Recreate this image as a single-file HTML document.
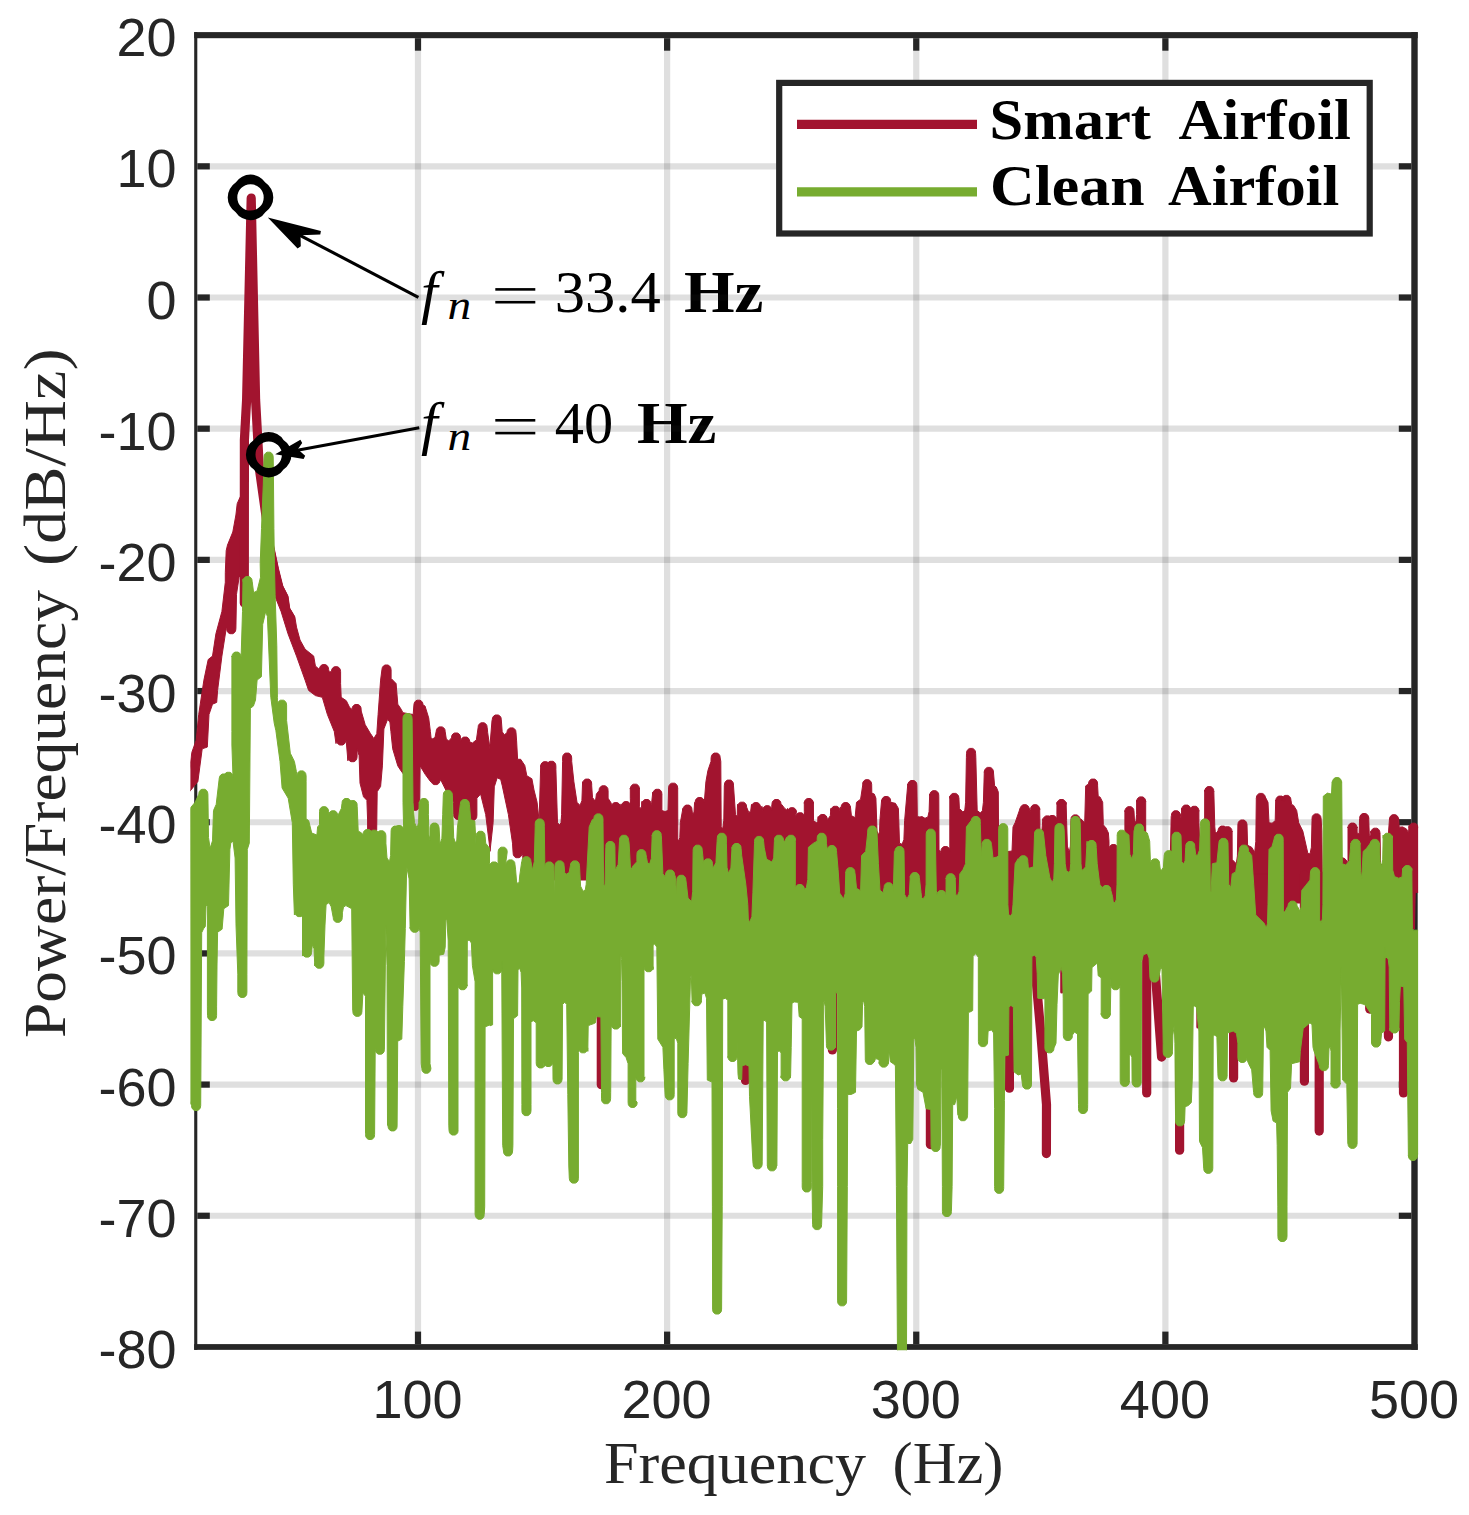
<!DOCTYPE html>
<html><head><meta charset="utf-8"><title>PSD</title>
<style>html,body{margin:0;padding:0;background:#fff;}body{width:1469px;height:1515px;overflow:hidden;}svg{display:block;} .sans{font-family:"Liberation Sans",sans-serif;fill:#262626;} .serif{font-family:"Liberation Serif",serif;}</style>
</head><body>
<svg width="1469" height="1515" viewBox="0 0 1469 1515">
<rect x="0" y="0" width="1469" height="1515" fill="#fff"/>
<g class="serif" fill="#000">
<text x="421" y="311.7" font-size="60" font-style="italic">f</text>
<text x="447.6" y="319.3" font-size="40" font-style="italic" textLength="23.7" lengthAdjust="spacingAndGlyphs">n</text>
<rect x="495.3" y="288.1" width="40" height="2.6"/>
<rect x="495.3" y="300.9" width="40" height="2.6"/>
<text x="554.8" y="311.7" font-size="58.5" textLength="106.0" lengthAdjust="spacingAndGlyphs">33.4</text>
<text x="684.0" y="311.7" font-size="59.5" font-weight="bold" textLength="79.5" lengthAdjust="spacingAndGlyphs">Hz</text>
</g>
<g class="serif" fill="#000">
<text x="421" y="442.6" font-size="60" font-style="italic">f</text>
<text x="447.6" y="450.2" font-size="40" font-style="italic" textLength="23.7" lengthAdjust="spacingAndGlyphs">n</text>
<rect x="495.3" y="419.0" width="40" height="2.6"/>
<rect x="495.3" y="431.8" width="40" height="2.6"/>
<text x="554.8" y="442.6" font-size="58.5" textLength="58.4" lengthAdjust="spacingAndGlyphs">40</text>
<text x="636.9" y="442.6" font-size="59.5" font-weight="bold" textLength="79.5" lengthAdjust="spacingAndGlyphs">Hz</text>
</g>
<g stroke="rgba(38,38,38,0.15)" stroke-width="6.2" fill="none">
<line x1="418.00" y1="35.15" x2="418.00" y2="1346.95"/>
<line x1="667.12" y1="35.15" x2="667.12" y2="1346.95"/>
<line x1="916.25" y1="35.15" x2="916.25" y2="1346.95"/>
<line x1="1165.38" y1="35.15" x2="1165.38" y2="1346.95"/>
<line x1="197.30" y1="166.33" x2="1414.50" y2="166.33"/>
<line x1="197.30" y1="297.51" x2="1414.50" y2="297.51"/>
<line x1="197.30" y1="428.69" x2="1414.50" y2="428.69"/>
<line x1="197.30" y1="559.87" x2="1414.50" y2="559.87"/>
<line x1="197.30" y1="691.05" x2="1414.50" y2="691.05"/>
<line x1="197.30" y1="822.23" x2="1414.50" y2="822.23"/>
<line x1="197.30" y1="953.41" x2="1414.50" y2="953.41"/>
<line x1="197.30" y1="1084.59" x2="1414.50" y2="1084.59"/>
<line x1="197.30" y1="1215.77" x2="1414.50" y2="1215.77"/>
</g>
<g fill="#262626">
<rect x="194.20" y="32.10" width="1223.50" height="6.10"/>
<rect x="194.20" y="1344.10" width="1223.50" height="5.75"/>
<rect x="194.20" y="32.10" width="3.10" height="1317.75"/>
<rect x="1411.30" y="32.10" width="6.40" height="1317.75"/>
<rect x="414.90" y="38.20" width="6.2" height="12.50"/>
<rect x="414.90" y="1331.60" width="6.2" height="12.50"/>
<rect x="664.02" y="38.20" width="6.2" height="12.50"/>
<rect x="664.02" y="1331.60" width="6.2" height="12.50"/>
<rect x="913.15" y="38.20" width="6.2" height="12.50"/>
<rect x="913.15" y="1331.60" width="6.2" height="12.50"/>
<rect x="1162.28" y="38.20" width="6.2" height="12.50"/>
<rect x="1162.28" y="1331.60" width="6.2" height="12.50"/>
<rect x="197.30" y="163.23" width="12.50" height="6.2"/>
<rect x="1398.80" y="163.23" width="12.50" height="6.2"/>
<rect x="197.30" y="294.41" width="12.50" height="6.2"/>
<rect x="1398.80" y="294.41" width="12.50" height="6.2"/>
<rect x="197.30" y="425.59" width="12.50" height="6.2"/>
<rect x="1398.80" y="425.59" width="12.50" height="6.2"/>
<rect x="197.30" y="556.77" width="12.50" height="6.2"/>
<rect x="1398.80" y="556.77" width="12.50" height="6.2"/>
<rect x="197.30" y="687.95" width="12.50" height="6.2"/>
<rect x="1398.80" y="687.95" width="12.50" height="6.2"/>
<rect x="197.30" y="819.13" width="12.50" height="6.2"/>
<rect x="1398.80" y="819.13" width="12.50" height="6.2"/>
<rect x="197.30" y="950.31" width="12.50" height="6.2"/>
<rect x="1398.80" y="950.31" width="12.50" height="6.2"/>
<rect x="197.30" y="1081.49" width="12.50" height="6.2"/>
<rect x="1398.80" y="1081.49" width="12.50" height="6.2"/>
<rect x="197.30" y="1212.67" width="12.50" height="6.2"/>
<rect x="1398.80" y="1212.67" width="12.50" height="6.2"/>
</g>
<defs><clipPath id="clip"><rect x="190.4" y="31.6" width="1227.7" height="1318.6"/></clipPath></defs>
<g clip-path="url(#clip)">
<path d="M189.3,771.1 L191.9,752.2 L196.2,740.2 L198.7,714.5 L203.9,680.1 L208.2,659.5 L212.5,656.1 L215.9,633.8 L221.9,611.5 L225.3,582.3 L225.3,572.7 L226.2,550.6 L227.5,545.0 L232.8,532.0 L235.9,515.0 L237.2,503.7 L239.9,497.5 L244.0,490.0 L244.0,570.0 L239.1,577.2 L236.5,594.3 L235.9,628.6 L235.9,628.8 L235.5,631.1 L234.4,632.7 L232.8,633.7 L229.8,633.7 L228.2,632.7 L227.1,631.1 L226.8,628.8 L226.2,628.6 L221.9,656.1 L217.6,690.4 L216.7,702.4 L212.5,704.2 L209.0,714.5 L207.3,747.1 L202.2,748.8 L197.9,781.4 L189.3,792.0Z" fill="#A2142F" stroke="#A2142F" stroke-width="1" stroke-linejoin="round"/>
<path d="M244.3,603.0 L244.4,440.0 L246.6,400.0 L251.2,198.2 L255.6,400.0 L259.4,469.2 L266.5,519.6 L269.1,546.0 L274.2,570.0 L278.5,587.2 L283.7,597.4 L285.4,609.4 L290.5,618.0" fill="none" stroke="#A2142F" stroke-width="9.2" stroke-linejoin="round" stroke-linecap="round"/>
<path d="M273.4,544.7 L278.5,568.8 L282.8,586.0 L288.0,596.2 L289.7,608.2 L294.8,616.8 L296.5,627.1 L300.0,640.0 L305.1,649.2 L313.7,656.1 L315.4,666.0 L319.4,669.5 L319.8,667.2 L320.9,665.6 L322.5,664.6 L325.5,664.6 L327.1,665.6 L328.2,667.2 L328.6,669.5 L329.2,672.0 L331.4,671.6 L331.8,669.3 L332.9,667.7 L334.5,666.7 L337.5,666.7 L339.1,667.7 L340.2,669.3 L340.6,671.6 L340.6,683.6 L341.2,697.3 L346.3,700.7 L349.7,707.6 L352.1,709.4 L352.4,707.1 L353.5,705.5 L355.1,704.5 L358.1,704.5 L359.7,705.5 L360.8,707.1 L361.2,709.4 L361.2,711.0 L365.2,724.7 L370.3,733.3 L373.8,738.5 L376.8,733.7 L378.1,714.5 L380.6,680.1 L381.9,669.9 L382.3,667.6 L383.4,666.0 L385.0,665.0 L388.0,665.0 L389.6,666.0 L390.7,667.6 L391.1,669.9 L391.1,678.4 L396.1,683.6 L397.8,704.2 L401.2,709.3 L402.9,712.7 L413.2,714.5 L413.9,705.1 L414.3,702.8 L415.4,701.2 L417.0,700.2 L420.0,700.2 L421.6,701.2 L422.7,702.8 L423.1,705.1 L425.0,706.0 L428.7,717.9 L430.4,731.6 L431.0,737.4 L432.5,738.9 L435.0,737.5 L436.1,731.8 L436.5,729.5 L437.6,727.9 L439.2,726.9 L442.2,726.9 L443.8,727.9 L444.9,729.5 L445.2,731.8 L446.3,739.1 L448.8,740.9 L451.5,737.9 L451.8,735.6 L452.9,734.0 L454.5,733.0 L457.5,733.0 L459.1,734.0 L460.2,735.6 L460.6,737.9 L460.7,737.9 L460.7,742.0 L461.0,739.7 L462.1,738.1 L463.7,737.1 L466.7,737.1 L468.3,738.1 L469.4,739.7 L469.8,742.0 L472.4,743.0 L476.4,739.9 L478.1,727.7 L478.4,725.4 L479.5,723.8 L481.1,722.8 L484.1,722.8 L485.7,723.8 L486.8,725.4 L487.2,727.7 L487.7,732.7 L490.0,749.1 L490.0,745.0 L492.0,720.5 L492.2,719.9 L492.6,717.6 L493.7,716.0 L495.3,715.0 L498.3,715.0 L499.9,716.0 L501.0,717.6 L501.3,719.9 L502.2,731.8 L504.3,734.8 L506.9,732.8 L507.3,730.5 L508.4,728.9 L510.0,727.9 L513.0,727.9 L514.6,728.9 L515.7,730.5 L516.0,732.8 L516.6,740.9 L517.6,759.3 L520.7,759.3 L524.8,765.5 L526.8,775.7 L531.9,778.8 L534.0,790.0 L537.1,802.3 L539.1,820.7 L540.7,765.5 L540.7,766.6 L541.0,764.3 L542.1,762.7 L543.7,761.7 L546.7,761.7 L548.3,762.7 L549.4,764.3 L549.8,766.6 L546.8,766.2 L547.2,763.9 L548.3,762.3 L549.9,761.3 L552.9,761.3 L554.5,762.3 L555.6,763.9 L555.9,766.2 L555.9,769.6 L557.5,822.8 L559.6,824.8 L561.0,822.8 L561.6,814.6 L562.6,761.4 L562.6,758.0 L562.9,755.7 L564.0,754.1 L565.6,753.1 L568.6,753.1 L570.2,754.1 L571.3,755.7 L571.7,758.0 L571.7,761.4 L573.9,781.8 L577.0,802.3 L580.0,805.4 L581.9,800.7 L582.6,781.8 L582.6,784.0 L583.0,781.7 L584.1,780.1 L585.7,779.1 L588.7,779.1 L590.3,780.1 L591.4,781.7 L591.7,784.0 L591.7,785.9 L592.5,797.4 L594.4,800.3 L595.8,799.0 L596.4,794.1 L599.0,790.7 L599.4,788.4 L600.5,786.8 L602.1,785.8 L605.1,785.8 L606.7,786.8 L607.8,788.4 L608.1,790.7 L608.1,798.2 L611.3,803.3 L611.3,807.5 L611.6,805.2 L612.7,803.6 L614.3,802.6 L617.3,802.6 L618.9,803.6 L620.0,805.2 L620.4,807.5 L621.0,803.9 L621.5,806.5 L621.9,804.2 L623.0,802.6 L624.6,801.6 L627.6,801.6 L629.2,802.6 L630.3,804.2 L630.6,806.5 L630.3,798.2 L630.3,788.0 L630.3,789.1 L630.7,786.8 L631.8,785.2 L633.4,784.2 L636.4,784.2 L638.0,785.2 L639.1,786.8 L639.4,789.1 L639.4,788.0 L639.4,806.4 L640.4,808.4 L641.5,807.0 L642.0,801.3 L642.0,804.4 L642.3,802.1 L643.4,800.5 L645.0,799.5 L648.0,799.5 L649.6,800.5 L650.7,802.1 L651.1,804.4 L651.7,802.3 L652.8,792.1 L652.8,794.2 L653.2,791.9 L654.3,790.3 L655.9,789.3 L658.9,789.3 L660.5,790.3 L661.6,791.9 L661.9,794.2 L661.9,794.1 L661.9,810.5 L665.0,811.5 L668.0,810.5 L668.6,788.0 L668.6,788.1 L668.9,785.8 L670.0,784.2 L671.6,783.2 L674.6,783.2 L676.2,784.2 L677.3,785.8 L677.7,788.1 L677.7,788.0 L677.8,839.1 L678.7,841.2 L679.8,837.5 L680.3,822.8 L682.9,808.4 L682.9,810.0 L683.3,807.7 L684.4,806.1 L686.0,805.1 L689.0,805.1 L690.6,806.1 L691.7,807.7 L692.0,810.0 L692.6,814.6 L694.0,812.1 L694.6,802.3 L695.2,802.4 L695.5,800.1 L696.6,798.5 L698.2,797.5 L701.2,797.5 L702.8,798.5 L703.9,800.1 L704.3,802.4 L704.3,802.3 L705.9,781.8 L707.9,770.6 L711.0,761.4 L711.1,758.0 L711.5,755.7 L712.6,754.1 L714.2,753.1 L717.2,753.1 L718.8,754.1 L719.9,755.7 L720.2,758.0 L720.8,761.4 L721.2,826.9 L722.7,828.9 L723.8,820.3 L724.3,785.9 L724.4,785.0 L724.8,782.7 L725.9,781.1 L727.5,780.1 L730.5,780.1 L732.1,781.1 L733.2,782.7 L733.5,785.0 L733.5,785.9 L735.5,814.6 L737.2,816.6 L737.5,804.4 L737.5,807.1 L737.9,804.8 L739.0,803.2 L740.6,802.2 L743.6,802.2 L745.2,803.2 L746.3,804.8 L746.6,807.1 L748.8,812.5 L750.7,810.9 L751.5,804.4 L751.5,807.5 L751.8,805.2 L752.9,803.6 L754.5,802.6 L757.5,802.6 L759.1,803.6 L760.2,805.2 L760.6,807.5 L762.1,806.4 L762.7,810.6 L763.1,808.3 L764.2,806.7 L765.8,805.7 L768.8,805.7 L770.4,806.7 L771.5,808.3 L771.8,810.6 L771.8,804.8 L771.9,804.4 L772.3,802.1 L773.4,800.5 L775.0,799.5 L778.0,799.5 L779.6,800.5 L780.7,802.1 L781.0,804.4 L781.6,804.4 L784.7,808.4 L787.5,810.5 L787.5,808.4 L787.5,812.6 L787.8,810.3 L788.9,808.7 L790.5,807.7 L793.5,807.7 L795.1,808.7 L796.2,810.3 L796.6,812.6 L795.7,814.6 L795.7,817.7 L796.0,815.4 L797.1,813.8 L798.7,812.8 L801.7,812.8 L803.3,813.8 L804.4,815.4 L804.8,817.7 L804.3,811.5 L804.3,802.3 L804.3,803.4 L804.6,801.1 L805.7,799.5 L807.3,798.5 L810.3,798.5 L811.9,799.5 L813.0,801.1 L813.4,803.4 L813.4,802.3 L813.5,820.7 L816.6,822.8 L817.7,821.5 L818.2,816.6 L818.2,819.4 L818.5,817.1 L819.6,815.5 L821.2,814.5 L824.2,814.5 L825.8,815.5 L826.9,817.1 L827.3,819.4 L828.9,817.7 L830.3,815.8 L830.9,808.4 L830.9,811.2 L831.2,808.9 L832.3,807.3 L833.9,806.3 L836.9,806.3 L838.5,807.3 L839.6,808.9 L840.0,811.2 L840.1,807.4 L841.1,807.5 L841.5,805.2 L842.6,803.6 L844.2,802.6 L847.2,802.6 L848.8,803.6 L849.9,805.2 L850.2,807.5 L850.4,806.4 L851.4,815.6 L855.1,817.7 L856.5,802.3 L860.6,799.2 L862.6,785.9 L862.6,784.6 L862.9,782.3 L864.0,780.7 L865.6,779.7 L868.6,779.7 L870.2,780.7 L871.3,782.3 L871.7,784.6 L871.7,785.9 L871.8,793.1 L874.3,794.1 L875.9,798.2 L877.0,831.0 L878.4,835.0 L879.5,831.8 L880.0,818.7 L881.6,800.3 L881.6,801.4 L882.0,799.1 L883.1,797.5 L884.7,796.5 L887.7,796.5 L889.3,797.5 L890.4,799.1 L890.7,801.4 L890.7,802.3 L895.4,803.3 L898.4,808.4 L899.5,843.2 L902.1,844.3 L903.9,839.6 L904.6,820.7 L907.8,783.9 L907.8,785.4 L908.2,783.1 L909.3,781.5 L910.9,780.5 L913.9,780.5 L915.5,781.5 L916.6,783.1 L916.9,785.4 L916.9,785.9 L917.3,816.6 L919.9,817.0 L922.0,816.6 L925.0,818.3 L927.9,816.9 L929.1,811.5 L929.7,794.1 L929.7,795.6 L930.1,793.3 L931.2,791.7 L932.8,790.7 L935.8,790.7 L937.4,791.7 L938.5,793.3 L938.8,795.6 L938.8,796.2 L939.0,849.4 L941.0,852.4 L941.0,851.5 L941.3,849.2 L942.4,847.6 L944.0,846.6 L947.0,846.6 L948.6,847.6 L949.7,849.2 L950.1,851.5 L949.8,851.4 L949.8,796.2 L949.8,798.3 L950.1,796.0 L951.2,794.4 L952.8,793.4 L955.8,793.4 L957.4,794.4 L958.5,796.0 L958.9,798.3 L958.9,798.2 L959.4,808.4 L962.9,812.1 L964.8,810.2 L965.6,802.3 L966.4,757.3 L966.5,753.3 L966.9,751.0 L968.0,749.4 L969.6,748.4 L972.6,748.4 L974.2,749.4 L975.3,751.0 L975.6,753.3 L975.8,757.3 L977.2,810.5 L980.3,813.0 L982.4,810.8 L983.4,802.3 L984.3,771.6 L984.3,772.3 L984.7,770.0 L985.8,768.4 L987.4,767.4 L990.4,767.4 L992.0,768.4 L993.1,770.0 L993.4,772.3 L993.4,771.6 L994.6,785.9 L996.3,787.0 L998.3,792.1 L998.7,855.5 L999.1,858.0 L1000.8,852.4 L1012.0,851.0 L1013.0,826.9 L1015.1,822.8 L1020.1,808.4 L1020.1,809.6 L1020.5,807.3 L1021.6,805.7 L1023.2,804.7 L1026.2,804.7 L1027.8,805.7 L1028.9,807.3 L1029.2,809.6 L1029.2,808.4 L1030.4,811.5 L1030.6,809.6 L1030.9,807.3 L1032.0,805.7 L1033.6,804.7 L1036.6,804.7 L1038.2,805.7 L1039.3,807.3 L1039.7,809.6 L1039.7,808.4 L1040.0,831.0 L1041.7,833.0 L1042.9,818.7 L1042.9,820.8 L1043.2,818.5 L1044.3,816.9 L1045.9,815.9 L1048.9,815.9 L1050.5,816.9 L1051.6,818.5 L1052.0,820.8 L1047.8,820.4 L1048.1,818.1 L1049.2,816.5 L1050.8,815.5 L1053.8,815.5 L1055.4,816.5 L1056.5,818.1 L1056.9,820.4 L1056.9,814.6 L1057.0,802.3 L1057.0,804.4 L1057.3,802.1 L1058.4,800.5 L1060.0,799.5 L1063.0,799.5 L1064.6,800.5 L1065.7,802.1 L1066.1,804.4 L1066.1,802.3 L1066.6,820.7 L1067.4,846.1 L1069.3,852.4 L1070.4,846.1 L1070.9,820.7 L1070.9,819.8 L1071.2,817.5 L1072.3,815.9 L1073.9,814.9 L1076.9,814.9 L1078.5,815.9 L1079.6,817.5 L1080.0,819.8 L1080.6,818.7 L1084.7,822.8 L1085.7,785.9 L1088.5,784.0 L1088.9,781.7 L1090.0,780.1 L1091.6,779.1 L1094.6,779.1 L1096.2,780.1 L1097.3,781.7 L1097.6,784.0 L1097.6,785.9 L1098.2,796.2 L1100.2,797.2 L1102.7,802.3 L1103.3,824.8 L1106.0,827.9 L1108.4,833.0 L1109.0,841.2 L1109.0,849.5 L1109.3,847.2 L1110.4,845.6 L1112.0,844.6 L1115.0,844.6 L1116.6,845.6 L1117.7,847.2 L1118.1,849.5 L1118.1,847.3 L1118.1,878.0 L1124.9,878.0 L1124.9,810.5 L1124.9,811.6 L1125.3,809.3 L1126.4,807.7 L1128.0,806.7 L1131.0,806.7 L1132.6,807.7 L1133.7,809.3 L1134.0,811.6 L1134.0,811.5 L1134.6,822.8 L1136.0,821.1 L1136.6,814.6 L1136.6,800.3 L1136.6,801.8 L1137.0,799.5 L1138.1,797.9 L1139.7,796.9 L1142.7,796.9 L1144.3,797.9 L1145.4,799.5 L1145.7,801.8 L1145.7,801.3 L1145.7,831.0 L1146.2,868.6 L1147.3,878.0 L1169.8,878.0 L1171.2,816.6 L1171.4,815.7 L1171.7,813.4 L1172.8,811.8 L1174.4,810.8 L1177.4,810.8 L1179.0,811.8 L1180.1,813.4 L1180.5,815.7 L1180.5,814.6 L1181.5,822.8 L1181.6,808.4 L1181.6,810.0 L1182.0,807.7 L1183.1,806.1 L1184.7,805.1 L1187.7,805.1 L1189.3,806.1 L1190.4,807.7 L1190.7,810.0 L1189.8,811.2 L1190.2,808.9 L1191.3,807.3 L1192.9,806.3 L1195.9,806.3 L1197.5,807.3 L1198.6,808.9 L1198.9,811.2 L1198.9,810.5 L1198.9,822.8 L1199.7,839.1 L1201.5,843.2 L1204.6,843.2 L1204.7,790.0 L1204.7,791.5 L1205.1,789.2 L1206.2,787.6 L1207.8,786.6 L1210.8,786.6 L1212.4,787.6 L1213.5,789.2 L1213.8,791.5 L1213.8,791.1 L1214.8,826.9 L1215.3,831.8 L1216.5,833.0 L1217.9,831.0 L1218.0,831.0 L1218.4,828.7 L1219.5,827.1 L1221.1,826.1 L1224.1,826.1 L1225.7,827.1 L1226.8,828.7 L1227.1,831.0 L1223.0,831.7 L1223.3,829.4 L1224.4,827.8 L1226.0,826.8 L1229.0,826.8 L1230.6,827.8 L1231.7,829.4 L1232.1,831.7 L1232.1,831.0 L1232.2,859.6 L1236.3,863.7 L1237.4,855.9 L1237.9,824.8 L1237.9,824.9 L1238.2,822.6 L1239.3,821.0 L1240.9,820.0 L1243.9,820.0 L1245.5,821.0 L1246.6,822.6 L1247.0,824.9 L1247.0,824.8 L1247.6,845.3 L1251.7,847.3 L1254.7,852.4 L1255.8,841.6 L1256.3,798.2 L1256.3,798.3 L1256.7,796.0 L1257.8,794.4 L1259.4,793.4 L1262.4,793.4 L1264.0,794.4 L1265.1,796.0 L1265.4,798.3 L1265.4,797.2 L1268.0,802.3 L1269.0,822.8 L1272.1,823.2 L1275.2,820.7 L1275.7,800.3 L1275.7,801.0 L1276.1,798.7 L1277.2,797.1 L1278.8,796.1 L1281.8,796.1 L1283.4,797.1 L1284.5,798.7 L1284.8,801.0 L1281.9,800.3 L1282.2,798.0 L1283.3,796.4 L1284.9,795.4 L1287.9,795.4 L1289.5,796.4 L1290.6,798.0 L1291.0,800.3 L1291.0,800.3 L1291.6,804.4 L1293.6,805.4 L1296.7,810.5 L1298.7,822.8 L1302.8,831.0 L1307.9,853.5 L1310.0,853.9 L1311.4,847.2 L1312.0,820.7 L1312.0,818.8 L1312.3,816.5 L1313.4,814.9 L1315.0,813.9 L1318.0,813.9 L1319.6,814.9 L1320.7,816.5 L1321.1,818.8 L1321.1,818.7 L1321.8,831.0 L1322.4,878.0 L1341.7,878.0 L1342.1,857.6 L1344.8,858.6 L1347.4,861.7 L1348.0,863.7 L1348.0,826.9 L1348.0,828.0 L1348.3,825.7 L1349.4,824.1 L1351.0,823.1 L1354.0,823.1 L1355.6,824.1 L1356.7,825.7 L1357.1,828.0 L1357.1,826.9 L1357.1,833.0 L1359.1,834.0 L1359.6,818.7 L1359.6,818.4 L1360.0,816.1 L1361.1,814.5 L1362.7,813.5 L1365.7,813.5 L1367.3,814.5 L1368.4,816.1 L1368.7,818.4 L1368.7,817.7 L1369.3,835.0 L1370.7,836.1 L1370.9,831.0 L1370.9,833.1 L1371.2,830.8 L1372.3,829.2 L1373.9,828.2 L1376.9,828.2 L1378.5,829.2 L1379.6,830.8 L1380.0,833.1 L1380.0,833.0 L1380.6,863.7 L1382.6,865.7 L1385.8,870.1 L1389.5,818.6 L1389.5,819.6 L1389.8,817.3 L1390.9,815.7 L1392.5,814.7 L1395.5,814.7 L1397.1,815.7 L1398.2,817.3 L1398.6,819.6 L1398.6,818.6 L1399.2,827.2 L1402.6,826.9 L1406.4,828.9 L1408.5,832.7 L1409.1,825.5 L1409.1,828.1 L1409.4,825.8 L1410.5,824.2 L1412.1,823.2 L1415.1,823.2 L1416.7,824.2 L1417.8,825.8 L1418.2,828.1 L1419.3,825.5 L1419.0,892.4 L1415.2,892.4 L1414.5,929.0 L1412.0,929.0 L1411.5,903.0 L1327.8,903.0 L1325.3,915.8 L1325.0,918.1 L1323.9,919.7 L1322.3,920.7 L1319.3,920.7 L1317.7,919.7 L1316.6,918.1 L1316.2,915.8 L1313.8,903.0 L1290.4,903.0 L1288.0,906.6 L1287.6,908.9 L1286.5,910.5 L1284.9,911.5 L1281.9,911.5 L1280.3,910.5 L1279.2,908.9 L1278.9,906.6 L1276.4,903.0 L1272.0,903.0 L1269.5,921.9 L1269.2,924.2 L1268.1,925.8 L1266.5,926.8 L1263.5,926.8 L1261.9,925.8 L1260.8,924.2 L1260.5,921.9 L1258.0,903.0 L1017.0,903.0 L1014.5,910.7 L1014.2,913.0 L1013.1,914.6 L1011.5,915.6 L1008.5,915.6 L1006.9,914.6 L1005.8,913.0 L1005.5,910.7 L1003.0,903.0 L756.5,903.0 L754.0,917.4 L753.7,919.7 L752.6,921.3 L751.0,922.3 L748.0,922.3 L746.4,921.3 L745.3,919.7 L745.0,917.4 L742.5,903.0 L701.0,903.0 L699.0,880.0 L699.0,880.0 L696.5,896.4 L696.2,898.7 L695.1,900.3 L693.5,901.3 L690.5,901.3 L688.9,900.3 L687.8,898.7 L687.5,896.4 L685.0,880.0 L683.6,880.0 L681.1,889.2 L680.8,891.5 L679.7,893.1 L678.1,894.1 L675.1,894.1 L673.5,893.1 L672.4,891.5 L672.1,889.2 L669.6,880.0 L524.0,880.0 L522.7,855.5 L522.2,852.8 L521.8,855.1 L520.7,856.7 L519.1,857.7 L516.1,857.7 L514.5,856.7 L513.4,855.1 L513.1,852.8 L512.5,843.2 L508.4,814.6 L502.3,785.9 L500.7,779.4 L497.2,777.8 L494.3,786.8 L493.1,822.8 L490.0,851.4 L490.0,849.4 L485.7,814.6 L480.6,794.1 L476.9,798.2 L476.9,815.5 L476.6,817.8 L475.5,819.4 L473.9,820.4 L470.9,820.4 L469.3,819.4 L468.2,817.8 L467.8,815.5 L467.8,802.3 L462.6,800.3 L462.6,814.5 L462.3,816.8 L461.2,818.4 L459.6,819.4 L456.6,819.4 L455.0,818.4 L453.9,816.8 L453.5,814.5 L453.5,802.3 L445.8,790.0 L441.7,781.8 L440.1,779.7 L439.7,782.0 L438.6,783.6 L437.0,784.6 L434.0,784.6 L432.4,783.6 L431.3,782.0 L431.0,779.7 L431.0,781.8 L430.4,781.4 L425.3,774.5 L420.1,765.9 L419.6,805.4 L419.2,807.7 L418.1,809.3 L416.5,810.3 L413.5,810.3 L411.9,809.3 L410.8,807.7 L410.4,805.4 L408.0,780.0 L401.2,771.1 L397.8,765.9 L392.7,748.8 L390.9,731.6 L389.9,722.0 L387.5,719.6 L383.9,728.9 L382.4,765.9 L380.6,786.5 L377.2,791.7 L376.7,829.8 L376.3,832.1 L375.2,833.7 L373.6,834.7 L370.6,834.7 L369.0,833.7 L367.9,832.1 L367.6,829.8 L367.6,820.0 L366.9,800.3 L363.5,796.8 L360.0,783.1 L359.1,755.7 L357.1,748.8 L357.1,756.8 L356.7,759.1 L355.6,760.7 L354.0,761.7 L351.0,761.7 L349.4,760.7 L348.3,759.1 L347.9,756.8 L347.9,760.8 L346.3,741.9 L345.8,740.1 L345.4,742.4 L344.3,744.0 L342.7,745.0 L339.7,745.0 L338.1,744.0 L337.0,742.4 L336.6,740.1 L336.0,743.6 L334.3,731.6 L327.4,714.5 L322.3,697.3 L315.4,695.6 L308.6,690.4 L305.1,680.1 L296.5,656.1 L288.0,633.8 L281.1,611.5 L274.2,594.3 L270.0,590.0Z" fill="#A2142F" stroke="#A2142F" stroke-width="1" stroke-linejoin="round"/>
<path d="M601.3,875.0 L601.3,1084.7" fill="none" stroke="#A2142F" stroke-width="9.2" stroke-linejoin="round" stroke-linecap="round"/>
<path d="M745.5,875.0 L745.5,1080.4" fill="none" stroke="#A2142F" stroke-width="9.2" stroke-linejoin="round" stroke-linecap="round"/>
<path d="M832.4,875.0 L832.4,1049.9" fill="none" stroke="#A2142F" stroke-width="9.2" stroke-linejoin="round" stroke-linecap="round"/>
<path d="M930.4,875.0 L930.4,1144.6" fill="none" stroke="#A2142F" stroke-width="9.2" stroke-linejoin="round" stroke-linecap="round"/>
<path d="M1009.4,875.0 L1009.4,1088.2" fill="none" stroke="#A2142F" stroke-width="9.2" stroke-linejoin="round" stroke-linecap="round"/>
<path d="M1146.7,875.0 L1146.7,1092.9" fill="none" stroke="#A2142F" stroke-width="9.2" stroke-linejoin="round" stroke-linecap="round"/>
<path d="M1179.6,875.0 L1179.6,1150.2" fill="none" stroke="#A2142F" stroke-width="9.2" stroke-linejoin="round" stroke-linecap="round"/>
<path d="M1233.6,875.0 L1233.6,1077.9" fill="none" stroke="#A2142F" stroke-width="9.2" stroke-linejoin="round" stroke-linecap="round"/>
<path d="M1304.4,875.0 L1304.4,1081.2" fill="none" stroke="#A2142F" stroke-width="9.2" stroke-linejoin="round" stroke-linecap="round"/>
<path d="M1319.2,875.0 L1319.2,1131.1" fill="none" stroke="#A2142F" stroke-width="9.2" stroke-linejoin="round" stroke-linecap="round"/>
<path d="M1369.7,875.0 L1369.7,1009.1" fill="none" stroke="#A2142F" stroke-width="9.2" stroke-linejoin="round" stroke-linecap="round"/>
<path d="M1403.5,875.0 L1403.5,1093.0" fill="none" stroke="#A2142F" stroke-width="9.2" stroke-linejoin="round" stroke-linecap="round"/>
<path d="M1034.5,945.0 L1035.2,962.0 L1036.4,983.0 L1040.7,1032.0 L1046.5,1104.6 L1046.4,1153.6" fill="none" stroke="#A2142F" stroke-width="9.2" stroke-linejoin="round" stroke-linecap="round"/>
<path d="M1155.5,975.0 L1161.6,1057.1" fill="none" stroke="#A2142F" stroke-width="9.2" stroke-linejoin="round" stroke-linecap="round"/>
<path d="M1386.0,950.0 L1388.5,1036.8" fill="none" stroke="#A2142F" stroke-width="9.2" stroke-linejoin="round" stroke-linecap="round"/>
<path d="M1061.7,950.0 L1061.7,992.0" fill="none" stroke="#A2142F" stroke-width="3.0" stroke-linejoin="round" stroke-linecap="round"/>
<path d="M1252.7,873.9 L1268.0,873.9 L1269.5,876.0 L1269.5,904.6 L1269.5,922.3 L1269.2,924.6 L1268.1,926.2 L1266.5,927.2 L1263.5,927.2 L1261.9,926.2 L1260.8,924.6 L1260.4,922.3 L1253.7,916.9 L1252.7,876.0Z" fill="#A2142F" stroke="#A2142F" stroke-width="1" stroke-linejoin="round"/>
<path d="M1197.8,990.0 L1197.8,1027.0" fill="none" stroke="#A2142F" stroke-width="3.0" stroke-linejoin="round" stroke-linecap="round"/>
<path d="M190.0,808.4 L195.1,802.3 L198.8,794.2 L199.1,791.9 L200.2,790.3 L201.8,789.3 L204.8,789.3 L206.4,790.3 L207.5,791.9 L207.9,794.2 L208.5,837.5 L210.1,848.3 L212.5,840.8 L213.5,810.5 L216.2,804.4 L219.2,778.8 L219.2,778.9 L219.6,776.6 L220.7,775.0 L222.3,774.0 L225.3,774.0 L226.9,775.0 L228.0,776.6 L228.3,778.9 L223.9,777.2 L224.3,774.9 L225.4,773.3 L227.0,772.3 L230.0,772.3 L231.6,773.3 L232.7,774.9 L233.0,777.2 L231.9,745.0 L231.9,731.6 L231.9,656.1 L231.9,657.0 L232.3,654.7 L233.4,653.1 L235.0,652.1 L238.0,652.1 L239.6,653.1 L240.7,654.7 L241.1,657.0 L241.1,657.8 L242.5,611.5 L243.0,578.9 L243.0,581.5 L243.4,579.2 L244.5,577.6 L246.1,576.6 L249.1,576.6 L250.7,577.6 L251.8,579.2 L252.2,581.5 L253.6,592.6 L257.1,590.9 L260.5,577.2 L260.2,563.9 L261.5,528.5 L263.3,484.0 L264.1,457.1 L264.4,454.8 L265.5,453.2 L267.1,452.2 L270.1,452.2 L271.7,453.2 L272.8,454.8 L273.2,457.1 L273.5,484.0 L273.9,528.5 L274.4,563.9 L275.1,594.3 L276.8,645.8 L277.4,697.3 L277.4,705.1 L277.8,702.8 L278.9,701.2 L280.5,700.2 L283.5,700.2 L285.1,701.2 L286.2,702.8 L286.6,705.1 L286.6,720.5 L290.3,753.2 L294.4,761.4 L296.4,771.6 L297.0,775.8 L297.3,773.5 L298.4,771.9 L300.0,770.9 L303.0,770.9 L304.6,771.9 L305.7,773.5 L306.1,775.8 L306.1,781.8 L306.1,818.7 L308.7,820.7 L311.7,833.0 L316.9,835.0 L317.6,826.9 L319.5,824.8 L319.5,811.6 L319.8,809.3 L320.9,807.7 L322.5,806.7 L325.5,806.7 L327.1,807.7 L328.2,809.3 L328.6,811.6 L328.7,815.6 L328.7,815.7 L329.0,813.4 L330.1,811.8 L331.7,810.8 L334.7,810.8 L336.3,811.8 L337.4,813.4 L337.8,815.7 L341.4,808.4 L342.0,803.4 L342.3,801.1 L343.4,799.5 L345.0,798.5 L348.0,798.5 L349.6,799.5 L350.7,801.1 L351.1,803.4 L348.1,805.5 L348.5,803.2 L349.6,801.6 L351.2,800.6 L354.2,800.6 L355.8,801.6 L356.9,803.2 L357.2,805.5 L357.2,806.4 L358.2,831.0 L360.9,832.6 L363.1,834.5 L363.4,832.2 L364.5,830.6 L366.1,829.6 L369.1,829.6 L370.7,830.6 L371.8,832.2 L372.2,834.5 L369.6,832.0 L369.6,835.1 L370.0,832.8 L371.1,831.2 L372.7,830.2 L375.7,830.2 L377.3,831.2 L378.4,832.8 L378.7,835.1 L376.8,835.7 L377.1,833.4 L378.2,831.8 L379.8,830.8 L382.8,830.8 L384.4,831.8 L385.5,833.4 L385.9,835.7 L385.9,843.2 L387.0,858.0 L389.5,861.7 L390.6,855.5 L391.1,831.0 L391.1,831.0 L391.4,828.7 L392.5,827.1 L394.1,826.1 L397.1,826.1 L398.7,827.1 L399.8,828.7 L400.2,831.0 L394.6,830.4 L394.9,828.1 L396.0,826.5 L397.6,825.5 L400.6,825.5 L402.2,826.5 L403.3,828.1 L403.7,830.4 L403.0,802.3 L403.0,718.5 L403.3,716.2 L404.4,714.6 L406.0,713.6 L409.0,713.6 L410.6,714.6 L411.7,716.2 L412.1,718.5 L413.0,802.3 L414.5,822.8 L417.1,827.9 L418.6,822.8 L419.2,802.3 L419.3,803.4 L419.7,801.1 L420.8,799.5 L422.4,798.5 L425.4,798.5 L427.0,799.5 L428.1,801.1 L428.4,803.4 L428.4,814.6 L428.9,835.0 L430.0,840.2 L430.0,828.0 L430.3,825.7 L431.4,824.1 L433.0,823.1 L436.0,823.1 L437.6,824.1 L438.7,825.7 L439.1,828.0 L440.0,844.3 L441.9,838.3 L442.7,814.6 L443.3,795.2 L443.6,792.9 L444.7,791.3 L446.3,790.3 L449.3,790.3 L450.9,791.3 L452.0,792.9 L452.4,795.2 L452.9,814.6 L453.7,837.5 L455.4,843.2 L456.8,840.2 L457.4,827.9 L460.3,804.4 L460.6,802.1 L461.7,800.5 L463.3,799.5 L466.3,799.5 L467.9,800.5 L469.0,802.1 L469.4,804.4 L470.7,819.7 L474.8,821.1 L476.0,844.3 L476.0,836.2 L476.4,833.9 L477.5,832.3 L479.1,831.3 L482.1,831.3 L483.7,832.3 L484.8,833.9 L485.1,836.2 L485.7,843.2 L489.5,848.3 L489.5,863.7 L489.5,866.9 L489.9,864.6 L491.0,863.0 L492.6,862.0 L495.6,862.0 L497.2,863.0 L498.3,864.6 L498.6,866.9 L498.1,863.7 L498.1,852.1 L498.5,849.8 L499.6,848.2 L501.2,847.2 L504.2,847.2 L505.8,848.2 L506.9,849.8 L507.2,852.1 L505.9,861.7 L505.9,864.8 L506.3,862.5 L507.4,860.9 L509.0,859.9 L512.0,859.9 L513.6,860.9 L514.7,862.5 L515.0,864.8 L515.6,869.8 L516.6,882.1 L518.0,883.5 L519.2,882.0 L519.7,876.0 L521.7,861.7 L521.9,861.7 L522.2,859.4 L523.3,857.8 L524.9,856.8 L527.9,856.8 L529.5,857.8 L530.6,859.4 L531.0,861.7 L532.4,870.2 L534.3,861.6 L535.2,826.9 L535.2,823.9 L535.5,821.6 L536.6,820.0 L538.2,819.0 L541.2,819.0 L542.8,820.0 L543.9,821.6 L544.3,823.9 L544.3,826.9 L544.8,863.7 L544.8,866.9 L545.1,864.6 L546.2,863.0 L547.8,862.0 L550.8,862.0 L552.4,863.0 L553.5,864.6 L553.9,866.9 L554.5,902.6 L555.0,865.8 L555.4,863.5 L556.5,861.9 L558.1,860.9 L561.1,860.9 L562.7,861.9 L563.8,863.5 L564.1,865.8 L564.7,872.6 L566.1,874.3 L569.1,872.6 L570.4,865.8 L570.7,863.5 L571.8,861.9 L573.4,860.9 L576.4,860.9 L578.0,861.9 L579.1,863.5 L579.5,865.8 L580.6,886.2 L583.1,891.3 L585.3,889.9 L586.2,884.2 L589.2,826.9 L592.3,819.7 L593.9,818.8 L594.2,816.5 L595.3,814.9 L596.9,813.9 L599.9,813.9 L601.5,814.9 L602.6,816.5 L603.0,818.8 L603.0,822.8 L603.6,884.2 L605.0,885.6 L605.8,847.3 L605.8,846.4 L606.1,844.1 L607.2,842.5 L608.8,841.5 L611.8,841.5 L613.4,842.5 L614.5,844.1 L614.9,846.4 L615.2,870.2 L618.2,864.4 L619.5,841.2 L619.5,840.2 L619.8,837.9 L620.9,836.3 L622.5,835.3 L625.5,835.3 L627.1,836.3 L628.2,837.9 L628.6,840.2 L629.1,843.2 L630.6,870.2 L633.2,865.7 L636.9,861.7 L636.9,854.6 L637.2,852.3 L638.3,850.7 L639.9,849.7 L642.9,849.7 L644.5,850.7 L645.6,852.3 L646.0,854.6 L646.5,857.6 L647.5,862.8 L649.6,864.1 L651.4,858.3 L652.2,835.0 L652.2,835.7 L652.6,833.4 L653.7,831.8 L655.3,830.8 L658.3,830.8 L659.9,831.8 L661.0,833.4 L661.3,835.7 L661.5,839.1 L662.9,873.9 L665.0,876.4 L665.5,875.0 L665.9,872.7 L667.0,871.1 L668.6,870.1 L671.6,870.1 L673.2,871.1 L674.3,872.7 L674.6,875.0 L675.2,876.0 L676.6,894.4 L676.8,880.2 L677.1,877.9 L678.2,876.3 L679.8,875.3 L682.8,875.3 L684.4,876.3 L685.5,877.9 L685.9,880.2 L686.4,884.2 L688.0,898.1 L691.6,901.6 L692.7,891.5 L693.1,851.4 L693.1,850.1 L693.5,847.8 L694.6,846.2 L696.2,845.2 L699.2,845.2 L700.8,846.2 L701.9,847.8 L702.2,850.1 L702.8,855.5 L703.4,862.1 L703.4,863.8 L703.7,861.5 L704.8,859.9 L706.4,858.9 L709.4,858.9 L711.0,859.9 L712.1,861.5 L712.5,863.8 L713.0,868.2 L715.9,862.8 L717.1,841.2 L717.3,838.2 L717.6,835.9 L718.7,834.3 L720.3,833.3 L723.3,833.3 L724.9,834.3 L726.0,835.9 L726.4,838.2 L726.4,843.2 L727.0,867.3 L728.4,873.3 L730.9,868.1 L732.0,847.3 L732.0,848.4 L732.4,846.1 L733.5,844.5 L735.1,843.5 L738.1,843.5 L739.7,844.5 L740.8,846.1 L741.1,848.4 L741.7,855.5 L745.8,884.2 L747.8,904.6 L748.3,919.0 L749.5,922.6 L751.9,916.6 L752.9,892.3 L754.5,843.2 L754.5,841.3 L754.9,839.0 L756.0,837.4 L757.6,836.4 L760.6,836.4 L762.2,837.4 L763.3,839.0 L763.6,841.3 L764.2,847.3 L766.5,859.1 L772.0,862.1 L773.7,857.9 L774.4,841.2 L774.4,840.2 L774.7,837.9 L775.8,836.3 L777.4,835.3 L780.4,835.3 L782.0,836.3 L783.1,837.9 L783.5,840.2 L784.7,841.6 L786.5,837.5 L786.5,840.2 L786.8,837.9 L787.9,836.3 L789.5,835.3 L792.5,835.3 L794.1,836.3 L795.2,837.9 L795.6,840.2 L795.3,841.2 L795.3,884.2 L795.3,886.2 L795.3,889.4 L795.6,887.1 L796.7,885.5 L798.3,884.5 L801.3,884.5 L802.9,885.5 L804.0,887.1 L804.4,889.4 L806.4,887.6 L807.8,879.6 L808.4,847.3 L813.5,843.2 L817.2,841.2 L817.2,838.2 L817.5,835.9 L818.6,834.3 L820.2,833.3 L823.2,833.3 L824.8,834.3 L825.9,835.9 L826.3,838.2 L826.4,843.2 L827.4,850.5 L827.7,848.2 L828.8,846.6 L830.4,845.6 L833.4,845.6 L835.0,846.6 L836.1,848.2 L836.5,850.5 L836.7,853.5 L838.1,869.8 L839.7,893.1 L843.6,898.9 L845.2,893.5 L845.8,871.9 L845.8,872.6 L846.2,870.3 L847.3,868.7 L848.9,867.7 L851.9,867.7 L853.5,868.7 L854.6,870.3 L854.9,872.6 L855.1,873.9 L856.5,888.3 L860.6,890.7 L861.6,855.5 L865.7,851.4 L867.7,833.0 L867.7,831.0 L868.1,828.7 L869.2,827.1 L870.8,826.1 L873.8,826.1 L875.4,827.1 L876.5,828.7 L876.8,831.0 L877.0,833.0 L878.4,863.7 L880.0,890.3 L883.1,892.8 L884.1,887.7 L884.4,885.4 L885.5,883.8 L887.1,882.8 L890.1,882.8 L891.7,883.8 L892.8,885.4 L893.2,887.7 L893.3,892.8 L894.4,851.4 L894.9,851.5 L895.3,849.2 L896.4,847.6 L898.0,846.6 L901.0,846.6 L902.6,847.6 L903.7,849.2 L904.0,851.5 L904.0,851.4 L904.6,894.4 L907.0,898.9 L909.3,894.3 L910.3,876.0 L910.3,877.5 L910.6,875.2 L911.7,873.6 L913.3,872.6 L916.3,872.6 L917.9,873.6 L919.0,875.2 L919.4,877.5 L919.4,878.0 L921.0,892.3 L921.6,897.6 L923.0,898.9 L925.2,895.9 L926.1,884.2 L926.2,835.0 L926.2,834.1 L926.6,831.8 L927.7,830.2 L929.3,829.2 L932.3,829.2 L933.9,830.2 L935.0,831.8 L935.3,834.1 L935.3,835.0 L936.3,890.3 L936.9,893.8 L936.9,895.5 L937.2,893.2 L938.3,891.6 L939.9,890.6 L942.9,890.6 L944.5,891.6 L945.6,893.2 L946.0,895.5 L946.0,893.8 L946.1,878.0 L946.1,878.7 L946.4,876.4 L947.5,874.8 L949.1,873.8 L952.1,873.8 L953.7,874.8 L954.8,876.4 L955.2,878.7 L955.2,878.0 L955.7,894.4 L957.4,895.8 L959.1,891.4 L959.8,873.9 L962.9,869.8 L965.6,863.7 L966.4,826.9 L971.1,820.7 L971.2,821.4 L971.6,819.1 L972.7,817.5 L974.3,816.5 L977.3,816.5 L978.9,817.5 L980.0,819.1 L980.3,821.4 L980.3,824.8 L981.3,855.9 L982.3,843.2 L982.3,844.3 L982.6,842.0 L983.7,840.4 L985.3,839.4 L988.3,839.4 L989.9,840.4 L991.0,842.0 L991.4,844.3 L991.6,845.3 L993.0,858.0 L996.7,857.1 L998.7,855.5 L998.7,831.0 L998.7,828.6 L999.0,826.3 L1000.1,824.7 L1001.7,823.7 L1004.7,823.7 L1006.3,824.7 L1007.4,826.3 L1007.8,828.6 L1007.8,831.0 L1007.9,904.6 L1008.5,914.0 L1010.0,916.3 L1012.1,914.0 L1013.0,904.6 L1015.1,863.7 L1018.2,858.6 L1018.7,860.7 L1019.1,858.4 L1020.2,856.8 L1021.8,855.8 L1024.8,855.8 L1026.4,856.8 L1027.5,858.4 L1027.8,860.7 L1027.8,861.7 L1028.3,866.9 L1029.4,868.2 L1033.5,866.8 L1034.5,835.0 L1034.5,834.1 L1034.8,831.8 L1035.9,830.2 L1037.5,829.2 L1040.5,829.2 L1042.1,830.2 L1043.2,831.8 L1043.6,834.1 L1043.7,835.0 L1045.8,855.5 L1049.9,878.0 L1052.3,882.5 L1053.8,878.8 L1054.4,863.7 L1054.9,831.0 L1054.9,828.6 L1055.3,826.3 L1056.4,824.7 L1058.0,823.7 L1061.0,823.7 L1062.6,824.7 L1063.7,826.3 L1064.0,828.6 L1064.2,831.0 L1065.2,863.7 L1066.3,870.6 L1068.7,872.3 L1070.1,870.6 L1070.7,863.7 L1070.9,822.8 L1070.9,821.4 L1071.2,819.1 L1072.3,817.5 L1073.9,816.5 L1076.9,816.5 L1078.5,817.5 L1079.6,819.1 L1080.0,821.4 L1080.2,822.8 L1081.0,863.7 L1081.5,868.9 L1082.6,870.2 L1085.7,866.8 L1087.1,841.2 L1087.1,845.4 L1087.4,843.1 L1088.5,841.5 L1090.1,840.5 L1093.1,840.5 L1094.7,841.5 L1095.8,843.1 L1096.2,845.4 L1096.2,847.3 L1097.2,863.7 L1099.2,880.1 L1100.0,885.3 L1101.8,886.6 L1101.8,890.4 L1102.2,888.1 L1103.3,886.5 L1104.9,885.5 L1107.9,885.5 L1109.5,886.5 L1110.6,888.1 L1110.9,890.4 L1110.9,890.7 L1112.5,896.4 L1113.2,901.7 L1115.0,903.0 L1116.4,899.2 L1117.0,884.2 L1117.2,835.0 L1117.2,835.1 L1117.5,832.8 L1118.6,831.2 L1120.2,830.2 L1123.2,830.2 L1124.8,831.2 L1125.9,832.8 L1126.3,835.1 L1126.3,833.0 L1128.9,835.0 L1129.8,854.2 L1131.9,859.0 L1133.4,853.4 L1134.0,831.0 L1134.6,829.0 L1134.9,826.7 L1136.0,825.1 L1137.6,824.1 L1140.6,824.1 L1142.2,825.1 L1143.3,826.7 L1143.7,829.0 L1143.7,831.0 L1147.3,833.0 L1149.7,841.2 L1150.4,861.7 L1150.5,864.1 L1150.5,863.8 L1150.9,861.5 L1152.0,859.9 L1153.6,858.9 L1156.6,858.9 L1158.2,859.9 L1159.3,861.5 L1159.6,863.8 L1160.2,869.0 L1161.6,870.2 L1163.4,867.3 L1164.2,855.5 L1164.2,855.6 L1164.6,853.3 L1165.7,851.7 L1167.3,850.7 L1170.3,850.7 L1171.9,851.7 L1173.0,853.3 L1173.3,855.6 L1172.0,852.9 L1172.0,839.1 L1172.0,837.2 L1172.4,834.9 L1173.5,833.3 L1175.1,832.3 L1178.1,832.3 L1179.7,833.3 L1180.8,834.9 L1181.1,837.2 L1181.1,839.1 L1181.7,861.7 L1183.7,864.1 L1185.1,860.7 L1185.7,847.3 L1185.7,846.4 L1186.1,844.1 L1187.2,842.5 L1188.8,841.5 L1191.8,841.5 L1193.4,842.5 L1194.5,844.1 L1194.8,846.4 L1194.8,847.3 L1195.6,854.2 L1197.4,855.9 L1199.5,850.1 L1200.4,826.9 L1200.4,823.9 L1200.8,821.6 L1201.9,820.0 L1203.5,819.0 L1206.5,819.0 L1208.1,820.0 L1209.2,821.6 L1209.5,823.9 L1209.7,826.9 L1210.3,890.3 L1211.1,891.7 L1212.4,863.7 L1216.9,862.7 L1218.9,843.2 L1218.9,843.3 L1219.2,841.0 L1220.3,839.4 L1221.9,838.4 L1224.9,838.4 L1226.5,839.4 L1227.6,841.0 L1228.0,843.3 L1228.0,843.2 L1228.7,884.2 L1230.8,887.6 L1232.2,873.9 L1235.7,871.9 L1239.0,851.4 L1239.3,850.1 L1239.7,847.8 L1240.8,846.2 L1242.4,845.2 L1245.4,845.2 L1247.0,846.2 L1248.1,847.8 L1248.4,850.1 L1248.6,851.4 L1251.7,855.5 L1253.7,884.2 L1255.7,914.9 L1263.9,923.0 L1266.4,927.9 L1267.5,923.3 L1268.0,904.6 L1269.0,849.4 L1272.1,846.3 L1274.1,839.1 L1274.1,839.2 L1274.5,836.9 L1275.6,835.3 L1277.2,834.3 L1280.2,834.3 L1281.8,835.3 L1282.9,836.9 L1283.2,839.2 L1283.2,841.2 L1283.4,910.8 L1284.8,912.2 L1287.5,906.7 L1288.0,906.1 L1288.4,903.8 L1289.5,902.2 L1291.1,901.2 L1294.1,901.2 L1295.7,902.2 L1296.8,903.8 L1297.1,906.1 L1297.7,906.7 L1299.7,911.2 L1301.2,907.0 L1301.8,890.3 L1305.9,885.2 L1310.0,880.1 L1310.5,871.9 L1310.5,872.6 L1310.9,870.3 L1312.0,868.7 L1313.6,867.7 L1316.6,867.7 L1318.2,868.7 L1319.3,870.3 L1319.6,872.6 L1319.6,871.9 L1319.6,920.0 L1321.2,922.4 L1322.4,918.9 L1322.9,904.6 L1323.3,796.2 L1327.4,793.1 L1331.5,794.1 L1332.1,781.8 L1332.4,782.5 L1332.8,780.2 L1333.9,778.6 L1335.5,777.6 L1338.5,777.6 L1340.1,778.6 L1341.2,780.2 L1341.5,782.5 L1341.7,781.8 L1342.3,863.7 L1345.8,865.1 L1349.4,860.7 L1350.9,843.2 L1351.0,844.3 L1351.4,842.0 L1352.5,840.4 L1354.1,839.4 L1357.1,839.4 L1358.7,840.4 L1359.8,842.0 L1360.1,844.3 L1360.1,843.2 L1360.6,871.4 L1361.7,878.4 L1363.2,851.4 L1366.6,848.3 L1370.3,843.2 L1370.3,844.3 L1370.6,842.0 L1371.7,840.4 L1373.3,839.4 L1376.3,839.4 L1377.9,840.4 L1379.0,842.0 L1379.4,844.3 L1379.5,843.2 L1380.2,861.6 L1381.6,866.2 L1382.7,859.9 L1383.2,835.0 L1383.2,838.2 L1383.5,835.9 L1384.6,834.3 L1386.2,833.3 L1389.2,833.3 L1390.8,834.3 L1391.9,835.9 L1392.3,838.2 L1392.3,835.8 L1392.7,870.1 L1394.5,876.6 L1398.7,878.2 L1402.1,877.0 L1402.7,868.4 L1402.7,870.5 L1403.1,868.2 L1404.2,866.6 L1405.8,865.6 L1408.8,865.6 L1410.4,866.6 L1411.5,868.2 L1411.8,870.5 L1411.8,868.4 L1412.4,928.5 L1413.6,930.2 L1419.3,930.2 L1419.3,1154.2 L1417.5,1154.2 L1417.5,1155.5 L1417.1,1157.8 L1416.0,1159.4 L1414.4,1160.4 L1411.4,1160.4 L1409.8,1159.4 L1408.7,1157.8 L1408.4,1155.5 L1408.4,1155.9 L1407.8,1101.0 L1407.3,1042.7 L1404.7,1039.2 L1403.8,986.9 L1400.4,986.0 L1399.5,1001.5 L1398.9,1030.7 L1398.9,1028.0 L1398.6,1030.3 L1397.5,1031.9 L1395.9,1032.9 L1392.9,1032.9 L1391.3,1031.9 L1390.2,1030.3 L1389.8,1028.0 L1389.8,1030.7 L1389.2,967.2 L1388.2,958.9 L1385.8,956.9 L1383.7,960.3 L1385.1,947.1 L1384.7,1031.0 L1381.6,1033.0 L1380.6,1043.2 L1380.6,1042.1 L1380.3,1044.4 L1379.2,1046.0 L1377.6,1047.0 L1374.6,1047.0 L1373.0,1046.0 L1371.9,1044.4 L1371.5,1042.1 L1371.5,1043.2 L1371.5,1014.6 L1366.2,1006.4 L1364.2,1004.4 L1360.1,1003.3 L1357.6,1004.4 L1357.1,1143.5 L1357.1,1143.4 L1356.7,1145.7 L1355.6,1147.3 L1354.0,1148.3 L1351.0,1148.3 L1349.4,1147.3 L1348.3,1145.7 L1348.0,1143.4 L1347.8,1143.5 L1346.8,1084.2 L1344.8,1082.1 L1342.7,1080.1 L1341.3,967.5 L1340.1,1031.0 L1340.1,1084.2 L1340.1,1083.1 L1339.7,1085.4 L1338.6,1087.0 L1337.0,1088.0 L1334.0,1088.0 L1332.4,1087.0 L1331.3,1085.4 L1331.0,1083.1 L1331.0,1084.2 L1331.0,1051.4 L1330.4,1047.3 L1329.0,1048.3 L1328.4,1065.7 L1328.4,1065.7 L1328.1,1068.0 L1327.0,1069.6 L1325.4,1070.6 L1322.4,1070.6 L1320.8,1069.6 L1319.7,1068.0 L1319.3,1065.7 L1318.8,1063.7 L1314.1,1051.4 L1313.0,1047.3 L1312.0,1024.8 L1310.0,1022.8 L1303.2,1028.5 L1300.3,1051.4 L1299.7,1061.7 L1295.6,1062.7 L1291.6,1063.7 L1290.5,1088.3 L1287.5,1092.3 L1287.0,1206.9 L1287.0,1236.6 L1286.6,1238.9 L1285.5,1240.5 L1283.9,1241.5 L1280.9,1241.5 L1279.3,1240.5 L1278.2,1238.9 L1277.9,1236.6 L1277.8,1206.9 L1277.2,1145.5 L1276.6,1123.0 L1273.1,1121.0 L1271.1,1110.8 L1270.1,1050.4 L1267.0,1047.3 L1266.0,1031.0 L1264.5,1026.9 L1263.5,1027.9 L1262.7,1092.3 L1262.7,1092.7 L1262.4,1095.0 L1261.3,1096.6 L1259.7,1097.6 L1256.7,1097.6 L1255.1,1096.6 L1254.0,1095.0 L1253.6,1092.7 L1253.6,1092.3 L1251.7,1069.8 L1248.6,1063.7 L1247.0,1059.6 L1247.0,1057.5 L1246.6,1059.8 L1245.5,1061.4 L1243.9,1062.4 L1240.9,1062.4 L1239.3,1061.4 L1238.2,1059.8 L1237.9,1057.5 L1237.9,1057.6 L1237.9,1043.2 L1236.5,1033.4 L1233.2,1031.0 L1227.5,1033.0 L1227.1,1076.0 L1227.1,1075.9 L1226.8,1078.2 L1225.7,1079.8 L1224.1,1080.8 L1221.1,1080.8 L1219.5,1079.8 L1218.4,1078.2 L1218.0,1075.9 L1217.9,1073.9 L1216.9,1037.1 L1214.8,1035.0 L1213.2,1036.1 L1212.8,1166.0 L1212.8,1168.4 L1212.5,1170.7 L1211.4,1172.3 L1209.8,1173.3 L1206.8,1173.3 L1205.2,1172.3 L1204.1,1170.7 L1203.7,1168.4 L1203.6,1166.0 L1202.5,1147.6 L1199.5,1141.5 L1198.9,1031.0 L1196.4,1007.4 L1194.8,1006.0 L1193.3,1006.4 L1192.3,1078.0 L1191.3,1102.6 L1188.2,1105.6 L1185.1,1106.7 L1184.6,1121.0 L1184.6,1120.9 L1184.2,1123.2 L1183.1,1124.8 L1181.5,1125.8 L1178.5,1125.8 L1176.9,1124.8 L1175.8,1123.2 L1175.5,1120.9 L1175.5,1114.9 L1174.9,1043.2 L1174.3,1024.8 L1172.9,1035.0 L1172.3,1053.5 L1172.3,1052.4 L1172.0,1054.7 L1170.9,1056.3 L1169.3,1057.3 L1166.3,1057.3 L1164.7,1056.3 L1163.6,1054.7 L1163.2,1052.4 L1163.2,1043.2 L1162.0,969.6 L1160.6,967.5 L1159.0,977.1 L1158.7,979.4 L1157.6,981.0 L1156.0,982.0 L1153.0,982.0 L1151.4,981.0 L1150.3,979.4 L1149.9,977.1 L1149.1,958.0 L1147.3,953.2 L1143.3,954.8 L1141.6,961.4 L1141.2,1082.1 L1141.2,1082.0 L1140.9,1084.3 L1139.8,1085.9 L1138.2,1086.9 L1135.2,1086.9 L1133.6,1085.9 L1132.5,1084.3 L1132.1,1082.0 L1132.1,1082.1 L1131.9,1057.6 L1130.5,1054.5 L1129.3,1055.5 L1129.3,1082.1 L1129.3,1081.4 L1129.0,1083.7 L1127.9,1085.3 L1126.3,1086.3 L1123.3,1086.3 L1121.7,1085.3 L1120.6,1083.7 L1120.2,1081.4 L1120.2,1080.1 L1120.1,988.0 L1120.1,984.8 L1119.8,987.1 L1118.7,988.7 L1117.1,989.7 L1114.1,989.7 L1112.5,988.7 L1111.4,987.1 L1111.0,984.8 L1111.0,985.9 L1111.0,978.8 L1110.9,979.8 L1110.3,1014.6 L1110.3,1013.5 L1110.0,1015.8 L1108.9,1017.4 L1107.3,1018.4 L1104.3,1018.4 L1102.7,1017.4 L1101.6,1015.8 L1101.2,1013.5 L1101.2,1014.6 L1101.2,977.8 L1098.2,975.7 L1097.4,963.0 L1092.0,967.5 L1091.6,991.1 L1090.0,992.1 L1090.0,992.5 L1088.1,994.1 L1087.7,1104.6 L1087.6,1108.6 L1087.2,1110.9 L1086.1,1112.5 L1084.5,1113.5 L1081.5,1113.5 L1079.9,1112.5 L1078.8,1110.9 L1078.5,1108.6 L1078.5,1104.6 L1077.5,1034.0 L1074.4,1032.0 L1072.4,1035.0 L1072.4,1035.6 L1072.1,1037.9 L1071.0,1039.5 L1069.4,1040.5 L1066.4,1040.5 L1064.8,1039.5 L1063.7,1037.9 L1063.3,1035.6 L1063.3,1035.0 L1063.2,998.2 L1062.6,973.7 L1061.1,967.5 L1058.3,974.9 L1057.0,1004.4 L1056.0,1043.2 L1054.0,1047.9 L1053.7,1050.2 L1052.6,1051.8 L1051.0,1052.8 L1048.0,1052.8 L1046.4,1051.8 L1045.3,1050.2 L1044.9,1047.9 L1044.9,1043.2 L1044.9,998.8 L1037.8,998.2 L1037.2,973.7 L1036.2,957.3 L1034.7,955.2 L1031.9,956.3 L1031.5,1084.2 L1031.5,1084.1 L1031.2,1086.4 L1030.1,1088.0 L1028.5,1089.0 L1025.5,1089.0 L1023.9,1088.0 L1022.8,1086.4 L1022.4,1084.1 L1022.4,1084.2 L1021.2,1073.9 L1018.2,1075.0 L1014.1,1071.9 L1013.4,1007.4 L1011.0,1005.4 L1008.9,1006.8 L1008.5,1055.1 L1004.9,1055.9 L1004.4,1100.5 L1003.7,1186.5 L1003.7,1188.4 L1003.3,1190.7 L1002.2,1192.3 L1000.6,1193.3 L997.6,1193.3 L996.0,1192.3 L994.9,1190.7 L994.6,1188.4 L994.6,1186.5 L994.6,1108.7 L993.6,1033.0 L991.6,1029.9 L988.1,1031.0 L987.5,1043.2 L987.5,1041.7 L987.2,1044.0 L986.1,1045.6 L984.5,1046.6 L981.5,1046.6 L979.9,1045.6 L978.8,1044.0 L978.4,1041.7 L978.4,1041.2 L978.3,957.3 L975.8,953.6 L973.1,956.3 L972.7,1010.5 L971.1,1011.5 L968.4,1012.5 L967.6,1114.9 L967.5,1115.8 L967.1,1118.1 L966.0,1119.7 L964.4,1120.7 L961.4,1120.7 L959.8,1119.7 L958.7,1118.1 L958.4,1115.8 L957.8,1114.9 L956.8,1096.4 L954.7,1104.6 L952.7,1104.6 L952.1,1186.5 L951.4,1211.6 L951.1,1213.9 L950.0,1215.5 L948.4,1216.5 L945.4,1216.5 L943.8,1215.5 L942.7,1213.9 L942.4,1211.6 L942.4,1186.5 L941.8,1068.8 L941.0,1069.8 L940.4,1145.5 L940.2,1146.5 L939.9,1148.8 L938.8,1150.4 L937.2,1151.4 L934.2,1151.4 L932.6,1150.4 L931.5,1148.8 L931.1,1146.5 L931.1,1145.5 L930.8,1109.5 L926.1,1108.7 L923.0,1092.3 L917.9,1089.3 L916.5,1084.2 L916.0,1047.3 L914.8,1038.1 L913.8,1039.1 L912.8,1139.4 L910.7,1143.5 L907.7,1143.5 L907.0,1186.5 L906.5,1356.8 L906.2,1359.1 L905.1,1360.7 L903.5,1361.7 L900.5,1361.7 L898.9,1360.7 L897.8,1359.1 L897.5,1356.8 L896.4,1186.5 L895.4,1065.7 L893.3,1063.7 L890.3,1061.7 L889.2,1049.4 L888.3,1063.7 L888.3,1062.2 L887.9,1064.5 L886.8,1066.1 L885.2,1067.1 L882.2,1067.1 L880.6,1066.1 L879.5,1064.5 L879.2,1062.2 L879.2,1063.7 L879.0,1059.6 L875.5,1058.6 L874.4,1061.7 L874.4,1059.5 L874.0,1061.8 L872.9,1063.4 L871.3,1064.4 L868.3,1064.4 L866.7,1063.4 L865.6,1061.8 L865.3,1059.5 L865.3,1059.6 L864.7,1006.4 L863.7,1001.3 L862.6,1002.3 L862.0,1026.9 L859.6,1029.9 L856.5,1031.0 L855.5,1092.3 L851.4,1094.4 L847.7,1094.4 L847.3,1186.5 L846.6,1300.9 L846.3,1303.2 L845.2,1304.8 L843.6,1305.8 L840.6,1305.8 L839.0,1304.8 L837.9,1303.2 L837.6,1300.9 L837.6,1186.5 L837.5,1108.7 L837.3,994.1 L836.2,991.7 L835.5,993.1 L835.5,1047.7 L835.5,1045.2 L835.1,1047.5 L834.0,1049.1 L832.4,1050.1 L829.4,1050.1 L827.8,1049.1 L826.7,1047.5 L826.4,1045.2 L826.4,1043.2 L825.2,1006.4 L824.2,1001.3 L823.8,1002.3 L822.7,1139.4 L822.7,1186.5 L821.6,1224.7 L821.3,1227.0 L820.2,1228.6 L818.6,1229.6 L815.6,1229.6 L814.0,1228.6 L812.9,1227.0 L812.6,1224.7 L812.1,1186.5 L811.5,1063.7 L811.3,1121.0 L811.3,1182.4 L811.3,1187.0 L811.0,1189.3 L809.9,1190.9 L808.3,1191.9 L805.3,1191.9 L803.7,1190.9 L802.6,1189.3 L802.2,1187.0 L802.2,1182.4 L802.2,1018.7 L799.2,1016.6 L798.2,1002.3 L794.1,1001.9 L792.0,1003.3 L791.2,1047.3 L790.6,1076.0 L790.2,1078.0 L790.2,1075.9 L789.9,1078.2 L788.8,1079.8 L787.2,1080.8 L784.2,1080.8 L782.6,1079.8 L781.5,1078.2 L781.1,1075.9 L781.1,1078.0 L781.1,1053.5 L780.2,1051.0 L777.5,1051.4 L776.9,1166.0 L776.5,1165.9 L776.2,1168.2 L775.1,1169.8 L773.5,1170.8 L770.5,1170.8 L768.9,1169.8 L767.8,1168.2 L767.4,1165.9 L767.3,1166.0 L766.6,1022.8 L765.2,1020.3 L763.2,1020.7 L762.2,1161.9 L762.2,1163.9 L761.8,1166.2 L760.7,1167.8 L759.1,1168.8 L756.1,1168.8 L754.5,1167.8 L753.4,1166.2 L753.1,1163.9 L752.9,1161.9 L749.5,1096.4 L749.0,1066.2 L745.8,1064.7 L742.1,1065.7 L741.7,1079.7 L738.6,1079.0 L738.0,1073.9 L737.2,1041.2 L737.0,1057.6 L737.0,1056.5 L736.7,1058.8 L735.6,1060.4 L734.0,1061.4 L731.0,1061.4 L729.4,1060.4 L728.3,1058.8 L727.9,1056.5 L727.9,1057.6 L727.8,1000.3 L725.3,998.2 L722.7,999.2 L722.2,1206.9 L721.6,1309.1 L721.3,1311.4 L720.2,1313.0 L718.6,1314.0 L715.6,1314.0 L714.0,1313.0 L712.9,1311.4 L712.6,1309.1 L712.4,1206.9 L712.0,1082.1 L707.3,1080.1 L706.5,998.2 L704.9,993.1 L701.8,994.1 L701.2,1002.3 L701.2,1000.8 L700.9,1003.1 L699.8,1004.7 L698.2,1005.7 L695.2,1005.7 L693.6,1004.7 L692.5,1003.1 L692.1,1000.8 L692.1,1002.3 L691.3,974.7 L690.5,977.8 L688.1,1063.7 L686.9,1112.8 L686.9,1112.7 L686.5,1115.0 L685.4,1116.6 L683.8,1117.6 L680.8,1117.6 L679.2,1116.6 L678.1,1115.0 L677.8,1112.7 L677.8,1112.8 L677.8,1043.2 L676.2,1038.1 L674.2,1039.1 L674.2,1094.4 L674.2,1094.9 L673.9,1097.2 L672.8,1098.8 L671.2,1099.8 L668.2,1099.8 L666.6,1098.8 L665.5,1097.2 L665.1,1094.9 L665.1,1094.4 L663.9,1069.8 L662.9,1047.3 L657.8,1039.1 L656.8,947.1 L654.7,944.0 L653.1,945.0 L653.1,969.6 L653.1,966.8 L652.8,969.1 L651.7,970.7 L650.1,971.7 L647.1,971.7 L645.5,970.7 L644.4,969.1 L644.0,966.8 L644.0,971.6 L644.0,1078.0 L644.9,1076.9 L644.6,1079.2 L643.5,1080.8 L641.9,1081.8 L638.9,1081.8 L637.3,1080.8 L636.2,1079.2 L635.8,1076.9 L635.8,1082.1 L635.8,1100.5 L637.2,1102.5 L636.8,1104.8 L635.7,1106.4 L634.1,1107.4 L631.1,1107.4 L629.5,1106.4 L628.4,1104.8 L628.1,1102.5 L628.1,1063.7 L626.1,1057.6 L622.6,1053.5 L622.0,981.8 L621.5,959.3 L620.4,953.6 L620.4,954.2 L620.4,1026.9 L620.4,1024.1 L620.0,1026.4 L618.9,1028.0 L617.3,1029.0 L614.3,1029.0 L612.7,1028.0 L611.6,1026.4 L611.3,1024.1 L611.1,1031.0 L610.7,1092.3 L610.6,1098.8 L610.2,1101.1 L609.1,1102.7 L607.5,1103.7 L604.5,1103.7 L602.9,1102.7 L601.8,1101.1 L601.5,1098.8 L601.5,1092.3 L600.9,1017.0 L596.4,1016.6 L595.4,1022.8 L593.3,1023.8 L590.3,1024.8 L588.2,1025.8 L587.8,1051.4 L587.7,1047.9 L587.3,1050.2 L586.2,1051.8 L584.6,1052.8 L581.6,1052.8 L580.0,1051.8 L578.9,1050.2 L578.6,1047.9 L578.4,1052.4 L578.4,1166.0 L578.4,1178.2 L578.1,1180.5 L577.0,1182.1 L575.4,1183.1 L572.4,1183.1 L570.8,1182.1 L569.7,1180.5 L569.3,1178.2 L568.8,1166.0 L567.8,1094.4 L566.7,1004.4 L564.7,1002.3 L562.6,1004.4 L562.1,1078.0 L562.1,1079.0 L561.7,1081.3 L560.6,1082.9 L559.0,1083.9 L556.0,1083.9 L554.4,1082.9 L553.3,1081.3 L553.0,1079.0 L553.0,1078.0 L552.9,1063.7 L552.9,1061.6 L552.5,1063.9 L551.4,1065.5 L549.8,1066.5 L546.8,1066.5 L545.2,1065.5 L544.1,1063.9 L543.8,1061.6 L543.8,1066.8 L545.3,1063.0 L544.9,1065.3 L543.8,1066.9 L542.2,1067.9 L539.2,1067.9 L537.6,1066.9 L536.5,1065.3 L536.2,1063.0 L536.2,1061.7 L536.2,1022.8 L533.4,1020.7 L531.0,1021.7 L531.0,1104.6 L531.0,1110.7 L530.6,1113.0 L529.5,1114.6 L527.9,1115.6 L524.9,1115.6 L523.3,1114.6 L522.2,1113.0 L521.9,1110.7 L521.9,1104.6 L521.7,988.0 L521.1,972.4 L519.7,968.5 L518.0,969.6 L517.6,1015.6 L513.5,1018.7 L512.9,1145.5 L512.6,1151.0 L512.2,1153.3 L511.1,1154.9 L509.5,1155.9 L506.5,1155.9 L504.9,1154.9 L503.8,1153.3 L503.5,1151.0 L502.7,1145.5 L501.7,961.4 L501.7,968.9 L501.4,971.2 L500.3,972.8 L498.7,973.8 L495.7,973.8 L494.1,972.8 L493.0,971.2 L492.6,968.9 L492.6,970.6 L492.6,1024.8 L490.0,1025.8 L490.0,1024.8 L485.1,1026.9 L484.7,1206.9 L484.2,1214.3 L483.9,1216.6 L482.8,1218.2 L481.2,1219.2 L478.2,1219.2 L476.6,1218.2 L475.5,1216.6 L475.1,1214.3 L475.1,1206.9 L475.1,981.8 L472.4,965.5 L471.4,943.0 L469.3,939.9 L467.3,940.9 L467.1,985.9 L467.1,984.8 L466.8,987.1 L465.7,988.7 L464.1,989.7 L461.1,989.7 L459.5,988.7 L458.4,987.1 L458.0,984.8 L458.0,988.0 L458.0,1129.2 L458.1,1130.1 L457.8,1132.4 L456.7,1134.0 L455.1,1135.0 L452.1,1135.0 L450.5,1134.0 L449.4,1132.4 L449.0,1130.1 L448.8,1125.1 L448.2,940.9 L446.8,919.4 L445.8,920.5 L445.2,947.5 L443.7,954.2 L439.1,955.2 L439.1,961.4 L439.1,961.3 L438.7,963.6 L437.6,965.2 L436.0,966.2 L433.0,966.2 L431.4,965.2 L430.3,963.6 L430.0,961.3 L430.0,963.4 L430.0,1063.7 L430.9,1068.3 L430.5,1070.6 L429.4,1072.2 L427.8,1073.2 L424.8,1073.2 L423.2,1072.2 L422.1,1070.6 L421.8,1068.3 L421.2,1063.7 L420.2,932.7 L419.2,927.3 L418.9,929.6 L417.8,931.2 L416.2,932.2 L413.2,932.2 L411.6,931.2 L410.5,929.6 L410.1,927.3 L410.1,928.5 L409.1,878.9 L406.7,866.5 L405.3,928.4 L404.4,961.4 L402.8,1006.4 L401.8,1039.1 L397.7,1041.2 L397.1,1125.1 L397.1,1126.0 L396.8,1128.3 L395.7,1129.9 L394.1,1130.9 L391.1,1130.9 L389.5,1129.9 L388.4,1128.3 L388.0,1126.0 L387.5,1125.1 L387.0,965.5 L385.8,925.6 L384.4,1049.4 L384.4,1049.3 L384.1,1051.6 L383.0,1053.2 L381.4,1054.2 L378.4,1054.2 L376.8,1053.2 L375.7,1051.6 L375.3,1049.3 L375.2,1049.4 L374.6,1134.3 L374.6,1134.6 L374.3,1136.9 L373.2,1138.5 L371.6,1139.5 L368.6,1139.5 L367.0,1138.5 L365.9,1136.9 L365.5,1134.6 L365.5,1133.3 L365.5,996.2 L362.9,993.1 L361.9,1011.5 L361.9,1011.4 L361.6,1013.7 L360.5,1015.3 L358.9,1016.3 L355.9,1016.3 L354.3,1015.3 L353.2,1013.7 L352.8,1011.4 L352.7,1010.5 L351.7,908.7 L345.9,905.6 L343.5,907.1 L342.4,912.8 L342.3,917.4 L341.9,919.7 L340.8,921.3 L339.2,922.3 L336.2,922.3 L334.6,921.3 L333.5,919.7 L333.2,917.4 L331.2,906.7 L329.1,902.6 L326.1,904.6 L325.0,925.1 L323.9,955.8 L323.9,963.3 L323.5,965.6 L322.4,967.2 L320.8,968.2 L317.8,968.2 L316.2,967.2 L315.1,965.6 L314.8,963.3 L314.8,966.0 L314.0,948.8 L312.4,944.5 L311.6,952.2 L311.2,954.5 L310.1,956.1 L308.5,957.1 L305.5,957.1 L303.9,956.1 L302.8,954.5 L302.5,952.2 L302.5,955.8 L302.5,912.8 L304.0,911.7 L303.7,914.0 L302.6,915.6 L301.0,916.6 L298.0,916.6 L296.4,915.6 L295.3,914.0 L294.9,911.7 L294.4,914.9 L293.3,884.2 L292.3,822.8 L288.2,798.2 L282.1,788.0 L280.0,761.4 L275.9,730.7 L274.2,723.0 L270.8,697.3 L267.4,616.6 L265.7,611.5 L262.7,624.5 L261.4,676.7 L257.1,680.1 L255.5,700.0 L253.4,706.1 L250.4,708.2 L249.3,843.2 L247.3,849.4 L246.9,974.2 L246.9,992.5 L246.6,994.8 L245.5,996.4 L243.9,997.4 L240.9,997.4 L239.3,996.4 L238.2,994.8 L237.8,992.5 L237.8,974.2 L236.0,925.1 L235.1,858.0 L233.0,841.2 L230.8,842.8 L229.9,849.4 L228.5,905.6 L223.8,908.7 L222.1,929.2 L217.6,932.2 L217.0,966.0 L216.6,1006.9 L216.6,1015.6 L216.3,1017.9 L215.2,1019.5 L213.6,1020.5 L210.6,1020.5 L209.0,1019.5 L207.9,1017.9 L207.5,1015.6 L207.4,1006.9 L207.4,906.7 L206.6,904.6 L206.0,906.7 L205.3,926.5 L203.5,928.8 L201.7,932.7 L200.7,1105.6 L200.3,1107.9 L199.2,1109.5 L197.6,1110.5 L194.6,1110.5 L193.0,1109.5 L191.9,1107.9 L191.5,1105.6 L189.0,1100.0Z" fill="#77AC30" stroke="#77AC30" stroke-width="1" stroke-linejoin="round"/>
</g>
<g class="sans" font-size="54">
<text x="176.6" y="56.1" text-anchor="end">20</text>
<text x="176.6" y="187.3" text-anchor="end">10</text>
<text x="176.6" y="318.5" text-anchor="end">0</text>
<text x="176.6" y="449.7" text-anchor="end">-10</text>
<text x="176.6" y="580.9" text-anchor="end">-20</text>
<text x="176.6" y="712.0" text-anchor="end">-30</text>
<text x="176.6" y="843.2" text-anchor="end">-40</text>
<text x="176.6" y="974.4" text-anchor="end">-50</text>
<text x="176.6" y="1105.6" text-anchor="end">-60</text>
<text x="176.6" y="1236.8" text-anchor="end">-70</text>
<text x="176.6" y="1368.0" text-anchor="end">-80</text>
<text x="417.5" y="1418" text-anchor="middle">100</text>
<text x="666.6" y="1418" text-anchor="middle">200</text>
<text x="915.8" y="1418" text-anchor="middle">300</text>
<text x="1164.9" y="1418" text-anchor="middle">400</text>
<text x="1414.0" y="1418" text-anchor="middle">500</text>
</g>
<g class="serif" fill="#262626" font-size="58.5">
<text x="604" y="1482.5" textLength="262" lengthAdjust="spacingAndGlyphs">Frequency</text>
<text x="892.5" y="1482.5" textLength="111" lengthAdjust="spacingAndGlyphs">(Hz)</text>
<text transform="translate(64.7,1038) rotate(-90)" x="0" y="0" textLength="448" lengthAdjust="spacingAndGlyphs">Power/Frequency</text>
<text transform="translate(64.7,566) rotate(-90)" x="0" y="0" textLength="217.5" lengthAdjust="spacingAndGlyphs">(dB/Hz)</text>
</g>
<rect x="779.2" y="82.9" width="590.5" height="150.6" fill="#fff" stroke="#262626" stroke-width="6.2"/>
<line x1="797" y1="124.3" x2="977" y2="124.3" stroke="#A2142F" stroke-width="9.2"/>
<line x1="797" y1="191.8" x2="977" y2="191.8" stroke="#77AC30" stroke-width="9.2"/>
<g class="serif" fill="#000" font-size="58" font-weight="bold">
<text x="989.5" y="138.6" textLength="161.5" lengthAdjust="spacingAndGlyphs">Smart</text>
<text x="1178.4" y="138.6" textLength="172.5" lengthAdjust="spacingAndGlyphs">Airfoil</text>
<text x="990" y="204.9" textLength="154.5" lengthAdjust="spacingAndGlyphs">Clean</text>
<text x="1168" y="204.9" textLength="171.2" lengthAdjust="spacingAndGlyphs">Airfoil</text>
</g>
<path d="M235.7,182.6 A17.7,17.7 0 0 1 265.3,182.6 A17.7,17.7 0 0 1 265.3,212.2 A17.7,17.7 0 0 1 235.7,212.2 A17.7,17.7 0 0 1 235.7,182.6 Z M263.7,197.4 A13.2,13.2 0 1 0 237.3,197.4 A13.2,13.2 0 1 0 263.7,197.4 Z" fill="#000" fill-rule="evenodd"/>
<path d="M253.9,439.9 A17.7,17.7 0 0 1 283.5,439.9 A17.7,17.7 0 0 1 283.5,469.5 A17.7,17.7 0 0 1 253.9,469.5 A17.7,17.7 0 0 1 253.9,439.9 Z M281.9,454.7 A13.2,13.2 0 1 0 255.5,454.7 A13.2,13.2 0 1 0 281.9,454.7 Z" fill="#000" fill-rule="evenodd"/>
<line x1="418.4" y1="297.3" x2="300" y2="235.3" stroke="#000" stroke-width="3.1"/>
<path d="M267.8,217.5 L320.9,231 L320.3,234.6 L300.5,235.3 L300.8,246.2 L297.6,248.4 Z" fill="#000"/>
<line x1="419.3" y1="427.7" x2="296" y2="450.4" stroke="#000" stroke-width="3.1"/>
<path d="M275.2,454.3 L300.4,439.8 L302.2,443 L297.8,449.3 L305.2,455.8 L303.6,459 Z" fill="#000"/>
</svg></body></html>
